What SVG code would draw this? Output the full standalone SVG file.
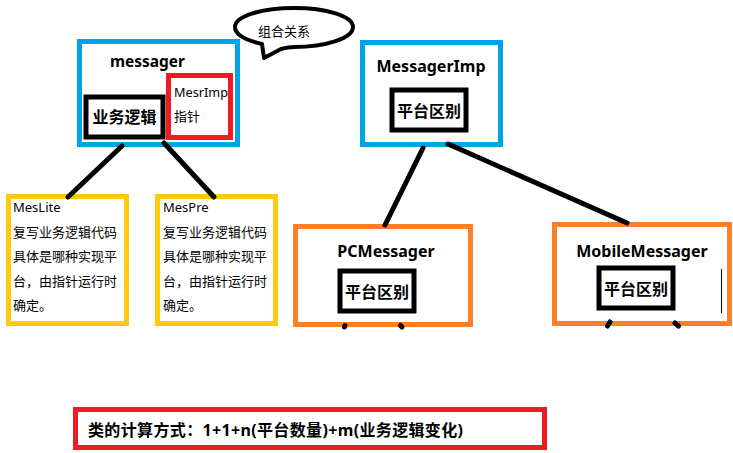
<svg xmlns="http://www.w3.org/2000/svg" width="733" height="453" viewBox="0 0 733 453">
<style>
text { font-family: "Noto Sans", "Noto Sans CJK SC", sans-serif; fill: #000; }
.title { font-size: 16px; font-weight: bold; }
.inner { font-size: 16px; font-weight: bold; }
.small { font-size: 13px; }
.blue { fill: #fff; stroke: #00a2e8; stroke-width: 5; }
.orange { fill: #fff; stroke: #ff7f27; stroke-width: 5; }
.yellow { fill: #fff; stroke: #ffc90e; stroke-width: 5; }
.red { fill: none; stroke: #ed1c24; stroke-width: 5; }
.blk { fill: #fff; stroke: #000; stroke-width: 5; }
.conn { stroke: #000; stroke-width: 5; stroke-linecap: round; fill: none; }
</style>
<rect width="733" height="453" fill="#fff"/>

<g id="bubble">
  <path d="M262,44 C245,40 235,34 235,27 C235,16 262,8 294,8 C326,8 353,16 353,27 C353,38 326,47 294,47 C290,47 285,48 281,49 L264,58 Z" fill="#fff" stroke="#000" stroke-width="4" stroke-linejoin="round"/>
  <text class="small" x="258" y="36">组合关系</text>
</g>

<g id="messager">
  <rect class="blue" x="79.5" y="41.5" width="158" height="103"/>
  <text class="title" x="110" y="67" textLength="75" lengthAdjust="spacingAndGlyphs">messager</text>
  <rect class="blk" x="86" y="97" width="77" height="40"/>
  <text class="inner" x="124.5" y="123" text-anchor="middle">业务逻辑</text>
  <rect class="red" x="168.5" y="75.5" width="62" height="62"/>
  <text class="small" x="174" y="97" textLength="54" lengthAdjust="spacingAndGlyphs">MesrImp</text>
  <text class="small" x="174" y="121">指针</text>
</g>

<g id="meslite">
  <rect class="yellow" x="8.5" y="196.5" width="118" height="127"/>
  <text class="small" x="13" y="212">MesLite</text>
  <text class="small" x="13" y="237">复写业务逻辑代码</text>
  <text class="small" x="13" y="261">具体是哪种实现平</text>
  <text class="small" x="13" y="286">台，由指针运行时</text>
  <text class="small" x="13" y="310">确定。</text>
</g>

<g id="mespre">
  <rect class="yellow" x="157.5" y="196.5" width="118" height="127"/>
  <text class="small" x="163" y="212">MesPre</text>
  <text class="small" x="163" y="237">复写业务逻辑代码</text>
  <text class="small" x="163" y="261">具体是哪种实现平</text>
  <text class="small" x="163" y="286">台，由指针运行时</text>
  <text class="small" x="163" y="310">确定。</text>
</g>

<g id="messagerimp">
  <rect class="blue" x="362.5" y="42.5" width="138" height="102"/>
  <text class="title" x="431" y="72" text-anchor="middle">MessagerImp</text>
  <rect class="blk" x="392" y="90" width="74" height="40"/>
  <text class="inner" x="429" y="117" text-anchor="middle">平台区别</text>
</g>

<g id="pcmessager">
  <rect class="orange" x="295.5" y="226.5" width="175" height="98"/>
  <text class="title" x="386" y="257" text-anchor="middle">PCMessager</text>
  <rect class="blk" x="340" y="271" width="74" height="40"/>
  <text class="inner" x="377" y="298" text-anchor="middle">平台区别</text>
</g>

<g id="mobilemessager">
  <rect class="orange" x="554.5" y="224.5" width="175" height="99"/>
  <text class="title" x="642" y="257" text-anchor="middle">MobileMessager</text>
  <rect class="blk" x="599" y="268" width="74" height="40"/>
  <text class="inner" x="636" y="295" text-anchor="middle">平台区别</text>
  <line x1="721.5" y1="269" x2="721.5" y2="313" stroke="#000" stroke-width="1"/>
</g>

<g id="formula">
  <rect class="red" x="75.5" y="409.5" width="469" height="38"/>
  <text class="inner" x="88" y="436" textLength="375" lengthAdjust="spacing">类的计算方式：1+1+n(平台数量)+m(业务逻辑变化)</text>
</g>

<g id="connectors">
  <line class="conn" x1="122" y1="146" x2="68" y2="197"/>
  <line class="conn" x1="164" y1="143" x2="214" y2="197"/>
  <line class="conn" x1="423" y1="148" x2="385" y2="225"/>
  <line class="conn" x1="448" y1="144" x2="627" y2="223"/>
  <line class="conn" x1="345" y1="325.5" x2="344.5" y2="327"/>
  <line class="conn" x1="400.5" y1="325.5" x2="402" y2="327"/>
  <line class="conn" x1="610" y1="322" x2="607.5" y2="326"/>
  <line class="conn" x1="675" y1="323" x2="678.5" y2="326"/>
</g>
</svg>
